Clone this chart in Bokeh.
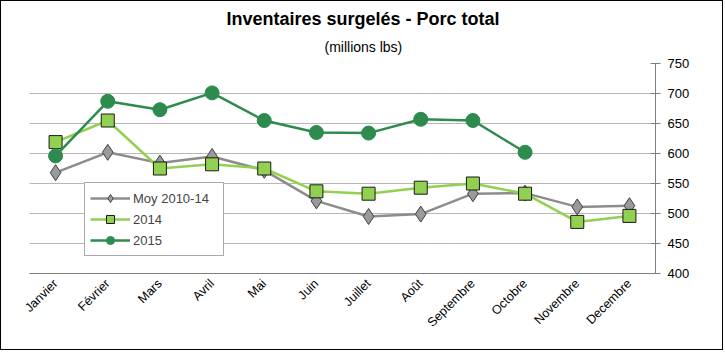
from bokeh.plotting import figure
from bokeh.models import (FactorRange, Range1d, Title, Legend, LegendItem,
                          FixedTicker)
from bokeh.embed import file_html
from bokeh.resources import INLINE

months = ["Janvier", "Février", "Mars", "Avril", "Mai", "Juin", "Juillet",
          "Août", "Septembre", "Octobre", "Novembre", "Decembre"]
moy_2010_14 = [568, 602, 584, 595, 572, 521, 495, 499, 533, 534, 511, 513]
y2014 = [619, 655, 575, 582, 575, 537, 533, 543, 550, 533, 486, 496]
y2015 = [596, 687, 673, 701, 655, 635, 634, 657, 655, 602]
y_ticks = [400, 450, 500, 550, 600, 650, 700, 750]

FONT = "Liberation Sans"

p = figure(width=723, height=350, x_range=FactorRange(*months),
           y_range=Range1d(400, 750), output_backend="svg",
           toolbar_location=None, y_axis_location="right", title=None,
           min_border_left=28, min_border_right=69, min_border_top=62,
           min_border_bottom=78)
p.styles = {"border": "1px solid #000000"}
p.x_range.range_padding = 0
p.outline_line_color = None
p.background_fill_color = "white"
p.border_fill_color = "white"

p.xgrid.grid_line_color = None
p.ygrid.grid_line_color = "#6f6f6f"
p.ygrid.grid_line_dash = "1 1"
p.ygrid.grid_line_width = 1

ya = p.yaxis[0]
ya.ticker = FixedTicker(ticks=y_ticks)
ya.axis_line_color = "#7f7f7f"
ya.major_tick_line_color = "#7f7f7f"
ya.major_tick_in = 5
ya.major_tick_out = 5
ya.minor_tick_line_color = None
ya.major_label_text_font = FONT
ya.major_label_text_font_size = "13px"
ya.major_label_text_color = "#000000"
ya.major_label_standoff = 7

xa = p.xaxis[0]
xa.axis_line_color = "#7f7f7f"
xa.major_tick_line_color = "#7f7f7f"
xa.major_tick_in = 0
xa.major_tick_out = 0
xa.major_label_orientation = 0.785
xa.major_label_text_font = FONT
xa.major_label_text_font_size = "12.5px"
xa.major_label_text_color = "#000000"
xa.major_label_standoff = 8

m = months
r1 = p.line(m, moy_2010_14, line_color="#8c8c8c", line_width=2.5)
r1m = p.scatter(m, moy_2010_14, marker="diamond", size=16, fill_color="#9a9a9a",
                line_color="#404040", line_width=1)
r2 = p.line(m, y2014, line_color="#92d050", line_width=2.5)
r2m = p.scatter(m, y2014, marker="square", size=13, fill_color="#92d050",
                line_color="#1a1a1a", line_width=1)
r3 = p.line(m[:len(y2015)], y2015, line_color="#2e8b4e", line_width=2.5)
r3m = p.scatter(m[:len(y2015)], y2015, marker="circle", size=14,
                fill_color="#2e8b4e", line_color="#2e8b4e")

legend = Legend(items=[
    LegendItem(label="Moy 2010-14", renderers=[r1, r1m]),
    LegendItem(label="2014", renderers=[r2, r2m]),
    LegendItem(label="2015", renderers=[r3, r3m]),
], location=(55, 17))
legend.label_text_font = FONT
legend.label_text_font_size = "13px"
legend.border_line_color = "#555555"
legend.border_line_width = 1
legend.background_fill_alpha = 1
legend.spacing = 1
legend.padding = 5
legend.margin = 0
legend.glyph_width = 40
legend.label_standoff = 3
legend.label_width = 85
p.add_layout(legend, "center")

p.add_layout(Title(text="(millions lbs)", text_font=FONT, text_color="#000000",
                   text_font_size="14px", text_font_style="normal",
                   align="left", offset=295, standoff=17), "above")
p.add_layout(Title(text="Inventaires surgelés - Porc total", text_font=FONT,
                   text_color="#000000",
                   text_font_size="18px", text_font_style="bold",
                   align="left", offset=197, standoff=0), "above")

open("out.html", "w").write(file_html(p, INLINE))
